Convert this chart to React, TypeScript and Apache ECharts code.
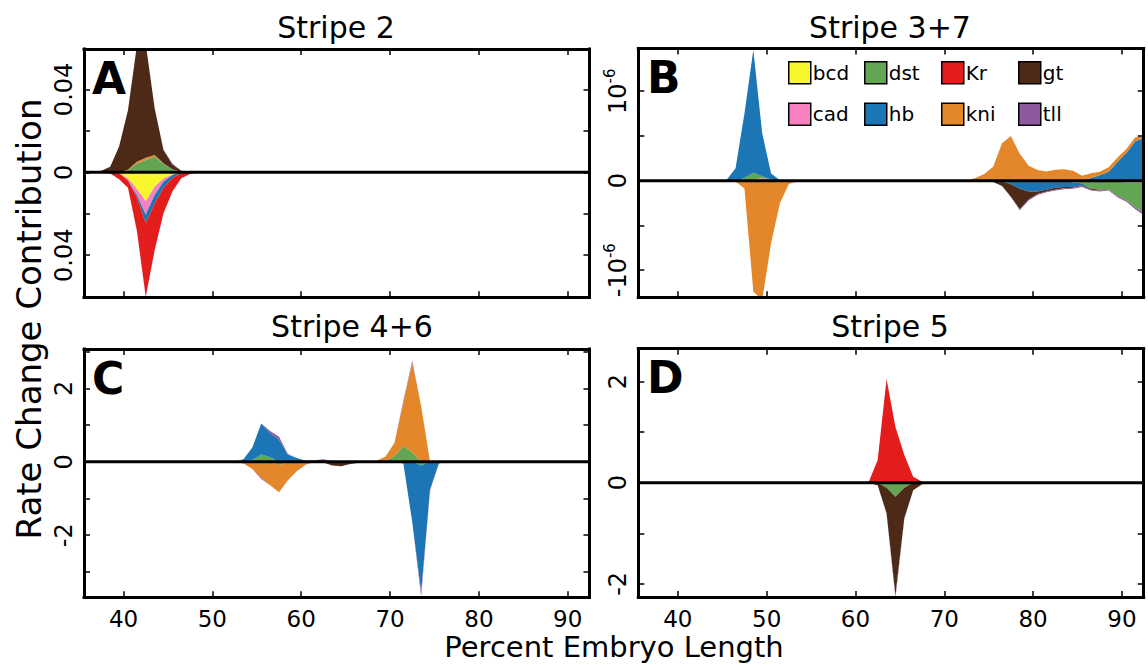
import React, { useEffect, useRef } from 'react';
import * as echarts from 'echarts';

const FONT = '"DejaVu Sans", "Liberation Sans", sans-serif';

// gene order used for stacking (inner -> outer)
const GENES = ['bcd', 'cad', 'dst', 'hb', 'Kr', 'kni', 'gt', 'tll'];
const GENE_COLORS = ['#f7f72c', '#f680c0', '#62a553', '#1c76b5', '#e31c1c', '#e4872a', '#4d2a17', '#8f5a9d'];

// legend layout: two rows, four columns
const LEGEND_COLUMNS = [['bcd', 'cad'], ['dst', 'hb'], ['Kr', 'kni'], ['gt', 'tll']];

// x axis (percent embryo length)
const X_MIN = 35.55;
const X_MAX = 92.45;
const X_TICKS = [40, 50, 60, 70, 80, 90];

// ---------- Panel A : Stripe 2 ----------
const A_x = [36.5, 37.5, 38.5, 39.5, 40.5, 41.5, 42.5, 43.5, 44.5, 45.5, 46.5, 47.5, 48.5];
const A_bcd = [0, 0, 0, -0.0005, -0.003, -0.008, -0.014, -0.007, -0.003, -0.001, 0, 0, 0];
const A_cad = [0, 0, 0, 0, -0.001, -0.003, -0.0065, -0.004, -0.0015, -0.0003, 0, 0, 0];
const A_dst = [0, 0, 0, 0, 0.001, 0.0043, 0.006, 0.0076, 0.004, 0.0015, 0.0003, 0, 0];
const A_hb = [0, 0, 0, 0, 0, -0.001, -0.004, -0.004, -0.003, -0.0015, -0.0003, 0, 0];
const A_Kr = [0, -0.0002, -0.0006, -0.0029, -0.0035, -0.016, -0.0355, -0.0225, -0.0123, -0.0065, -0.0026, -0.0008, 0];
const A_kni = [0, 0, 0, 0, 0.0003, 0.0008, 0.001, 0.0008, 0.0003, 0, 0, 0, 0];
const A_gt = [0, 0.0008, 0.0027, 0.0124, 0.0287, 0.056, 0.055, 0.0226, 0.0063, 0.0023, 0.0005, 0, 0];
const A_tll = [0, 0, 0, 0, 0, -0.0003, -0.0004, -0.0003, 0.0004, 0.0004, 0, 0, 0];

// ---------- Panel B : Stripe 3+7 (values in units of 1e-6) ----------
const B_UNIT = 1e-6;
const B1_x = [44.5, 45.5, 46.5, 47.5, 48.5, 49.5, 50.5, 51.5, 52.5, 53.5, 54.5];
const B1_bcd = [0, 0, 0, 0, 0, 0, 0, 0, 0, 0, 0];
const B1_cad = [0, 0, 0, 0, 0.01, 0.03, 0.01, 0, 0, 0, 0];
const B1_dst = [0, 0, 0, 0.03, 0.08, 0.02, 0, 0, 0, 0, 0];
const B1_hb = [0, 0.01, 0.14, 0.72, 1.37, 0.48, 0.07, 0.005, 0, 0, 0];
const B1_Kr = [0, 0, 0, 0, 0, 0, 0, 0, 0, 0, 0];
const B1_kni = [0, 0, -0.01, -0.086, -1.24, -1.33, -0.7, -0.25, -0.037, -0.005, 0];
const B1_gt = [0, 0, 0, 0, 0, 0, 0, 0, 0, 0, 0];
const B1_tll = [0, 0, 0, 0, 0, 0, 0, 0, 0, 0, 0];

const B2_x = [72.5, 73.5, 74.5, 75.5, 76.5, 77.5, 78.5, 79.5, 80.5, 81.5, 82.5, 83.5, 84.5, 85.5, 86.5, 87.5, 88.5, 89.5, 90.5, 91.5, 92.5];
const B2_bcd = [0, 0, 0, 0, 0, 0, 0, 0, 0, 0, 0, 0, 0, 0, 0, 0, 0, 0, 0, 0, 0];
const B2_cad = [0, 0, 0, 0, 0, 0, 0, 0, 0, 0, 0, 0, 0, 0, 0, 0, -0.005, -0.01, -0.02, -0.02, -0.02];
const B2_dst = [0, 0, 0, 0, 0, 0, 0, 0, 0, 0, 0, 0, -0.02, -0.03, -0.09, -0.1, -0.095, -0.16, -0.2, -0.28, -0.345];
const B2_hb = [0, 0, 0, 0, -0.01, -0.04, -0.09, -0.12, -0.12, -0.1, -0.08, -0.07, -0.05, -0.02, 0.03, 0.06, 0.1, 0.21, 0.31, 0.44, 0.48];
const B2_Kr = [0, 0, 0, 0, 0, 0, 0, 0, 0, 0, 0, 0, 0, 0, 0, 0, 0, 0, 0, 0, 0];
const B2_kni = [0, 0.03, 0.075, 0.156, 0.417, 0.5, 0.3, 0.168, 0.12, 0.104, 0.123, 0.127, 0.112, 0.056, 0.052, 0.04, 0.049, 0.05, 0.044, 0.044, 0.02];
const B2_gt = [0, 0, -0.005, -0.015, -0.05, -0.14, -0.23, -0.09, -0.03, -0.02, -0.02, -0.015, -0.01, -0.01, -0.01, -0.01, 0, 0, 0, 0, 0];
const B2_tll = [0, 0, 0, 0, 0, -0.005, -0.01, -0.01, -0.01, -0.01, -0.01, -0.01, -0.01, -0.01, -0.01, -0.01, -0.01, -0.015, -0.015, -0.02, -0.02];

// ---------- Panel C : Stripe 4+6 ----------
const C_x = [52.5, 53.5, 54.5, 55.5, 56.5, 57.5, 58.5, 59.5, 60.5, 61.5, 62.5, 63.5, 64.5, 65.5, 66.5, 67.5, 68.5, 69.5, 70.5, 71.5, 72.5, 73.5, 74.5, 75.5, 76.5];
const C_bcd = [0, 0, 0, 0, 0, 0, 0, 0, 0, 0, 0, 0, 0, 0, 0, 0, 0, 0, 0, 0, 0, 0, 0, 0, 0];
const C_cad = [0, 0, 0, 0, 0, 0, 0, 0, 0, 0, 0, 0, 0, 0, 0, 0, 0, 0, 0, 0, 0, 0, 0, 0, 0];
const C_dst = [0, 0, 0.05, 0.2, 0.12, -0.09, -0.02, 0, 0, 0, 0, 0, 0, 0, 0, 0, 0, 0.02, 0.16, 0.43, 0.25, -0.1, 0, 0, 0];
const C_hb = [0, 0.07, 0.34, 0.84, 0.67, 0.6, 0.19, 0.1, 0.03, 0, 0, 0, 0, 0, 0, 0, 0, 0, 0, -0.05, -1.65, -3.45, -0.75, -0.05, 0];
const C_Kr = [0, 0, 0, 0, 0, 0, 0, 0, 0, 0, 0, 0, 0, 0, 0, 0, 0, 0, 0, 0, 0, 0, 0, 0, 0];
const C_kni = [0, -0.045, -0.2, -0.44, -0.64, -0.74, -0.48, -0.25, -0.08, 0, 0, 0, 0, 0, 0.01, 0.02, 0.03, 0.12, 0.36, 1.18, 2.45, 1.52, 0, 0, 0];
const C_gt = [0, 0, 0, 0, 0, 0, 0, 0, 0, 0, -0.02, -0.1, -0.12, -0.06, -0.03, -0.01, 0, 0, 0, 0, 0, 0, 0, 0, 0];
const C_tll = [0, 0, 0, -0.03, 0.05, 0.08, 0.02, -0.01, 0, 0.04, 0.07, 0.02, 0, 0, 0, 0, 0, 0, 0, 0.05, 0.05, -0.12, -0.04, 0, 0];

// ---------- Panel D : Stripe 5 ----------
const D_x = [60.5, 61.5, 62.5, 63.5, 64.5, 65.5, 66.5, 67.5, 68.5, 69.5];
const D_bcd = [0, 0, 0, 0, 0, 0, 0, 0, 0, 0];
const D_cad = [0, 0, 0, 0, 0, 0, 0, 0, 0, 0];
const D_dst = [0, 0, 0, -0.1, -0.28, -0.1, 0, 0, 0, 0];
const D_hb = [0, 0, 0, 0, 0, 0, 0, 0, 0, 0];
const D_Kr = [0, 0.02, 0.45, 2.05, 1.1, 0.55, 0.12, 0.02, 0, 0];
const D_kni = [0, 0, 0, 0, 0, 0, 0, 0, 0, 0];
const D_gt = [0, 0, -0.05, -0.5, -1.95, -0.6, -0.15, -0.03, 0, 0];
const D_tll = [0, 0, 0, -0.02, -0.05, -0.02, 0, 0, 0, 0];

// y axes
const A_Y_TICKS = [-0.04, -0.02, 0, 0.02, 0.04];
const A_Y_LABELS = [-0.04, 0, 0.04];
const B_Y_TICKS = [-1e-6, -0.5e-6, 0, 0.5e-6, 1e-6];
const B_Y_LABELS = [-1e-6, 0, 1e-6];
const C_Y_TICKS = [-3, -2, -1, 0, 1, 2, 3];
const C_Y_LABELS = [-2, 0, 2];
const D_Y_TICKS = [-2, -1, 0, 1, 2];
const D_Y_LABELS = [-2, 0, 2];

const PANEL_TITLES = ['Stripe 2', 'Stripe 3+7', 'Stripe 4+6', 'Stripe 5'];
const PANEL_LETTERS = ['A', 'B', 'C', 'D'];

const GRIDS = [
  { left: 84, top: 49, width: 505.5, height: 248.3 },
  { left: 638.3, top: 48.5, width: 505.4, height: 248.8 },
  { left: 84, top: 349, width: 505.5, height: 248.3 },
  { left: 638.3, top: 348.7, width: 505.4, height: 248.3 },
];

const Y_SETUP = [
  { min: -0.0603, max: 0.0595, ticks: A_Y_TICKS, labels: A_Y_LABELS, fmt: (v: number) => (v === 0 ? '{b|0}' : '{b|0.04}') },
  {
    min: -1.303e-6, max: 1.477e-6, ticks: B_Y_TICKS, labels: B_Y_LABELS,
    fmt: (v: number) => (v === 0 ? '{b|0}' : v < 0 ? '{b|-10}{s|-6}' : '{b|10}{s|-6}'),
  },
  { min: -3.69, max: 3.07, ticks: C_Y_TICKS, labels: C_Y_LABELS, fmt: (v: number) => '{b|' + String(v) + '}' },
  { min: -2.26, max: 2.65, ticks: D_Y_TICKS, labels: D_Y_LABELS, fmt: (v: number) => '{b|' + String(v) + '}' },
];

const SEGMENTS = [
  { id: 'A', grid: 0, x: A_x, unit: 1, vals: [A_bcd, A_cad, A_dst, A_hb, A_Kr, A_kni, A_gt, A_tll] },
  { id: 'B1', grid: 1, x: B1_x, unit: B_UNIT, vals: [B1_bcd, B1_cad, B1_dst, B1_hb, B1_Kr, B1_kni, B1_gt, B1_tll] },
  { id: 'B2', grid: 1, x: B2_x, unit: B_UNIT, vals: [B2_bcd, B2_cad, B2_dst, B2_hb, B2_Kr, B2_kni, B2_gt, B2_tll] },
  { id: 'C', grid: 2, x: C_x, unit: 1, vals: [C_bcd, C_cad, C_dst, C_hb, C_Kr, C_kni, C_gt, C_tll] },
  { id: 'D', grid: 3, x: D_x, unit: 1, vals: [D_bcd, D_cad, D_dst, D_hb, D_Kr, D_kni, D_gt, D_tll] },
];

function buildOption() {
  const frameLine = { color: '#000', width: 3, cap: 'square' };
  const tickStyle = { color: '#000', width: 1.5 };
  const xAxis: any[] = [];
  const yAxis: any[] = [];
  GRIDS.forEach((_, i) => {
    ['bottom', 'top'].forEach((pos) => {
      xAxis.push({
        type: 'value', gridIndex: i, min: X_MIN, max: X_MAX, position: pos, z: 10,
        axisLine: { show: true, onZero: false, lineStyle: frameLine },
        axisTick: { show: true, inside: true, length: 6, customValues: X_TICKS, lineStyle: tickStyle },
        axisLabel: {
          show: pos === 'bottom' && i >= 2, customValues: X_TICKS, color: '#000',
          fontSize: 23, fontFamily: FONT, margin: 10,
        },
        splitLine: { show: false },
      });
    });
    const ys = Y_SETUP[i];
    ['left', 'right'].forEach((pos) => {
      yAxis.push({
        type: 'value', gridIndex: i, min: ys.min, max: ys.max, position: pos, z: 10,
        axisLine: { show: true, onZero: false, lineStyle: frameLine },
        axisTick: { show: true, inside: true, length: 6, customValues: ys.ticks, lineStyle: tickStyle },
        axisLabel: {
          show: pos === 'left', customValues: ys.labels, rotate: 90, margin: 8, color: '#000',
          formatter: (v: number) => ys.fmt(v),
          rich: {
            b: { fontSize: 24, fontFamily: FONT, color: '#000', lineHeight: 28, verticalAlign: 'bottom' },
            s: { fontSize: 15, fontFamily: FONT, color: '#000', lineHeight: 28, verticalAlign: 'top' },
          },
        },
        splitLine: { show: false },
      });
    });
  });

  // positive and negative contributions are stacked separately (above / below zero)
  const series: any[] = [];
  SEGMENTS.forEach((seg) => {
    ['pos', 'neg'].forEach((sign) => {
      GENES.forEach((g, gi) => {
        series.push({
          type: 'line', name: g, xAxisIndex: seg.grid * 2, yAxisIndex: seg.grid * 2,
          stack: seg.id + sign,
          data: seg.x.map((x, k) => {
            const v = seg.vals[gi][k];
            const part = sign === 'pos' ? Math.max(v, 0) : Math.min(v, 0);
            return [part * seg.unit, x];
          }),
          encode: { x: 1, y: 0 },
          symbol: 'none', showSymbol: false, silent: true,
          color: GENE_COLORS[gi],
          itemStyle: { color: GENE_COLORS[gi] },
          lineStyle: { width: 0, color: GENE_COLORS[gi] },
          areaStyle: { color: GENE_COLORS[gi], opacity: 1 },
          z: 2,
        });
      });
    });
  });
  // zero baselines
  GRIDS.forEach((_, i) => {
    series.push({
      type: 'line', name: 'baseline' + i, xAxisIndex: i * 2, yAxisIndex: i * 2,
      data: [[X_MIN, 0], [X_MAX, 0]], symbol: 'none', silent: true,
      lineStyle: { color: '#000', width: 3 }, z: 5,
    });
  });

  const legendLefts = [788, 864, 941, 1018];
  const legend = LEGEND_COLUMNS.map((names, c) => ({
    data: names, orient: 'vertical', left: legendLefts[c], top: 61,
    itemGap: 18, itemWidth: 22, itemHeight: 22, padding: 0, icon: 'rect', selectedMode: false,
    itemStyle: { borderColor: '#000', borderWidth: 1.5 },
    textStyle: { fontSize: 20, fontFamily: FONT, color: '#000', padding: [0, 0, 0, -3] },
  }));

  const titlePos = [[336, 27], [890, 27], [352, 326], [890, 326]];
  const letterPos = [[92, 78], [647, 77], [92, 378], [647, 377]];
  const graphic: any[] = [];
  PANEL_TITLES.forEach((t, i) => {
    graphic.push({
      type: 'text', x: titlePos[i][0], y: titlePos[i][1], silent: true,
      style: { text: t, fill: '#000', font: '30px ' + FONT, textAlign: 'center', textVerticalAlign: 'middle', align: 'center', verticalAlign: 'middle' },
    });
  });
  PANEL_LETTERS.forEach((t, i) => {
    graphic.push({
      type: 'text', x: letterPos[i][0], y: letterPos[i][1], silent: true, z: 20,
      style: { text: t, fill: '#000', font: 'bold 44px ' + FONT, textAlign: 'left', textVerticalAlign: 'middle', align: 'left', verticalAlign: 'middle' },
    });
  });
  graphic.push({
    type: 'text', x: 29, y: 319, rotation: Math.PI / 2, silent: true,
    style: { text: 'Rate Change Contribution', fill: '#000', font: '34px ' + FONT, textAlign: 'center', textVerticalAlign: 'middle', align: 'center', verticalAlign: 'middle' },
  });
  graphic.push({
    type: 'text', x: 614, y: 647, silent: true,
    style: { text: 'Percent Embryo Length', fill: '#000', font: '29px ' + FONT, textAlign: 'center', textVerticalAlign: 'middle', align: 'center', verticalAlign: 'middle' },
  });

  return {
    animation: false,
    backgroundColor: '#fff',
    grid: GRIDS.map((g) => ({ ...g, containLabel: false })),
    xAxis, yAxis, series, legend, graphic,
  };
}

export default function App() {
  const ref = useRef<HTMLDivElement>(null);
  useEffect(() => {
    if (!ref.current) return;
    const chart = echarts.init(ref.current, undefined, { renderer: 'svg' });
    chart.setOption(buildOption() as any);
    return () => chart.dispose();
  }, []);
  return <div ref={ref} style={{ position: 'absolute', left: 0, top: 0, width: 1148, height: 666 }} />;
}
